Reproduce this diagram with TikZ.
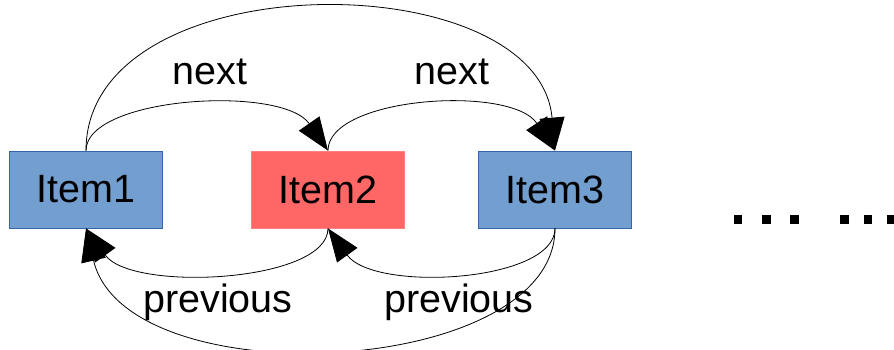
\documentclass[tikz,border=0pt]{standalone}
\usepackage{fontspec}
\setmainfont{Liberation Sans}
\usetikzlibrary{arrows.meta}
\definecolor{boxblue}{HTML}{729FCF}
\definecolor{boxblueedge}{HTML}{3465A4}
\definecolor{boxred}{HTML}{FF6666}
\definecolor{boxrededge}{HTML}{FF8080}
\begin{document}
\begin{tikzpicture}[x=1pt,y=1pt,
  item/.style={minimum width=153pt,minimum height=77pt,inner sep=0pt,line width=0.8pt,font=\fontsize{39.5}{42}\selectfont},
  conn/.style={line width=0.8pt,-{Triangle[length=33pt,width=25pt]}},
  lbl/.style={font=\fontsize{39.5}{42}\selectfont,inner sep=0pt},
  dotsq/.style={fill=black}]
\useasboundingbox (0,0) rectangle (894,350);
\node[item,fill=boxblue,draw=boxblueedge] (i1) at (86,160.5) {Item1};
\node[item,fill=boxred,draw=boxrededge] (i2) at (328,160.5) {Item2};
\node[item,fill=boxblue,draw=boxblueedge] (i3) at (555,160.5) {Item3};
% next arrows
\draw[conn] (i1.north) .. controls +(0,54) and +(-46,66) .. (i2.north);
\draw[conn] (i2.north) .. controls +(0,54) and +(-44,66) .. (i3.north);
\draw[conn] (i1.north) .. controls +(0,189) and +(-17,189) .. (i3.north);
% previous arrows
\draw[conn] (i2.south) .. controls +(0,-54) and +(46,-64) .. (i1.south);
\draw[conn] (i3.south) .. controls +(0,-54) and +(46,-64) .. (i2.south);
\draw[conn] (i3.south) .. controls +(0,-150) and +(40,-170) .. (i1.south);
% labels
\node[lbl] (n1) at (210,278) {next};
\node[lbl] (n2) at (452,278) {next};
\node[lbl] (p1) at (218,47.5) {previous};
\node[lbl] (p2) at (459,47.5) {previous};
% ellipsis dots
\foreach \xx in {733.5,762,790,840,863.5,887}{
  \fill[dotsq] (\xx,126) rectangle +(8.5,8.5);
}
\end{tikzpicture}
\end{document}
